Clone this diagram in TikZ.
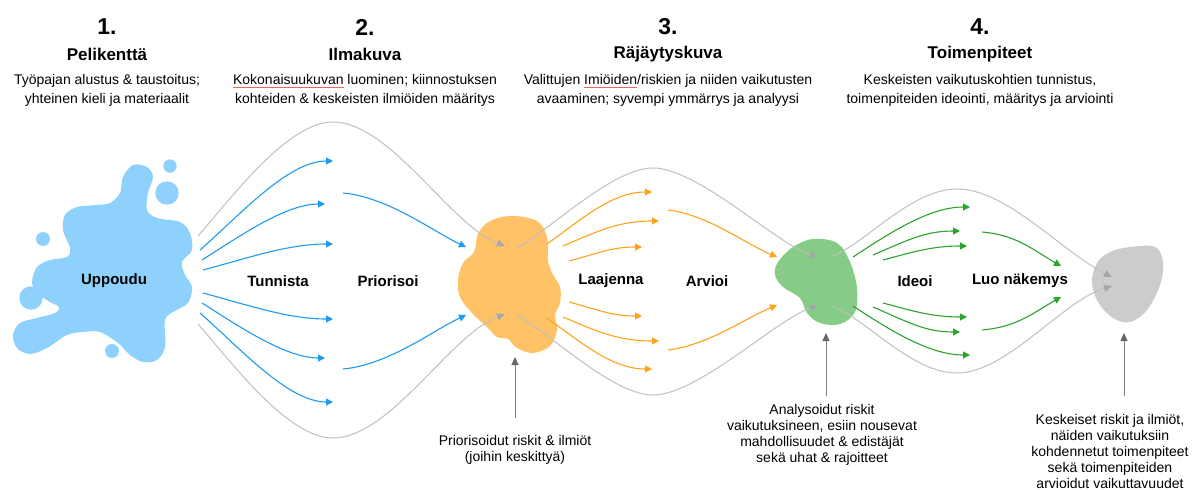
\documentclass[tikz,border=0pt]{standalone}
\usepackage{fontspec}
\setmainfont{Liberation Sans}
\usetikzlibrary{arrows.meta}

\definecolor{splash}{HTML}{8ED1FC}
\definecolor{bluearrow}{HTML}{1E9BF0}
\definecolor{orangeblob}{HTML}{FFC266}
\definecolor{orangearrow}{HTML}{FFA31A}
\definecolor{greenblob}{HTML}{86CC86}
\definecolor{greenarrow}{HTML}{2DA32D}
\definecolor{grayblob}{HTML}{CCCCCC}
\definecolor{flowline}{HTML}{C0C0C0}
\definecolor{flowtip}{HTML}{A6A6A6}
\definecolor{pointer}{HTML}{808080}
\definecolor{pointertip}{HTML}{666666}
\definecolor{spellred}{HTML}{EE6666}

% red spell-check squiggle under a word
\newcommand\spellwave[1]{\setbox0\hbox{#1}%
  \rlap{\color{spellred}\hbox to\wd0{\xleaders\hbox{\rule[-3.6pt]{0.7pt}{0.4pt}\hskip0.2pt\rule[-3.0pt]{0.7pt}{0.4pt}\hskip0.2pt}\hfil}}#1}

\tikzset{
  bluearr/.style={draw=bluearrow, line width=1.1pt, -{Triangle[length=7pt,width=7pt]}},
  orangearr/.style={draw=orangearrow, line width=1.1pt, -{Triangle[length=7pt,width=7pt]}},
  greenarr/.style={draw=greenarrow, line width=1.1pt, -{Triangle[length=7pt,width=7pt]}},
  flow/.style={draw=flowline, line width=1pt, -{Triangle[length=8pt,width=7pt,color=flowtip]}},
  pointerarr/.style={draw=pointer, line width=1pt, -{Triangle[length=8pt,width=7pt,color=pointertip]}},
  stepnum/.style={font=\fontsize{23}{26}\selectfont\bfseries},
  stagetitle/.style={font=\fontsize{17}{20}\selectfont\bfseries},
  stagedesc/.style={font=\fontsize{14}{19}\selectfont, align=center, inner sep=0pt},
  actlabel/.style={font=\fontsize{15}{18}\selectfont\bfseries},
  outlabel/.style={font=\fontsize{14}{16}\selectfont, align=center, inner sep=0pt},
}

\begin{document}
\begin{tikzpicture}[x=1pt, y=-1pt]
\useasboundingbox (0,0) rectangle (1192,490);
\fill[white] (0,0) rectangle (1192,490);

% ---------- blobs ----------
\fill[splash] plot[smooth cycle, tension=0.55] coordinates {
  (123,177) (133,165) (147,167) (153,177) (148,193) (147,210) (157,218)
  (180,222) (190,233) (192,250) (182,262) (185,275) (192,287) (188,303)
  (173,312) (165,320) (165,347) (157,360) (143,362) (130,355) (118,343)
  (100,332) (83,332) (67,335) (47,348) (30,354) (17,348) (13,335) (20,323)
  (37,318) (55,313) (59,307) (50,302) (37,293) (32,282) (37,267) (50,260)
  (67,257) (70,248) (63,230) (65,215) (77,207) (97,205) (110,203) (120,193)};
\fill[splash] (170,166) circle (6.7);
\fill[splash] (167,193) circle (11.7);
\fill[splash] (43,239) circle (7);
\fill[splash] (31,298) circle (11.7);
\fill[splash] (112,351) circle (7);

\fill[orangeblob] plot[smooth cycle, tension=0.6] coordinates {
  (512,216) (537,221) (547,237) (548,260) (552,273) (560,287) (560,303)
  (555,315) (557,330) (550,346) (533,353) (517,348) (508,339) (497,337)
  (488,328) (472,313) (460,297) (458,280) (463,263) (474,252) (478,234) (490,221)};

\fill[greenblob] plot[smooth cycle, tension=0.6] coordinates {
  (813,239) (837,243) (850,262) (857,288) (855,312) (840,324) (820,323)
  (807,313) (800,298) (783,287) (775,275) (778,262) (793,247)};

\fill[grayblob] plot[smooth cycle, tension=0.6] coordinates {
  (1130,247) (1155,247) (1163,262) (1160,285) (1147,310) (1130,322)
  (1113,318) (1098,302) (1092,282) (1097,263) (1110,252)};

% ---------- grey envelope lines ----------
\coordinate (g1a) at (198,236); \coordinate (g1p) at (333,122); \coordinate (g1b) at (505,246);
\coordinate (g1c) at (198,324); \coordinate (g1q) at (333,438); \coordinate (g1d) at (505,314);
\draw[flow] (g1a) .. controls +(35,-40) and +(-45,0) .. (g1p)
                  .. controls +(57,0) and +(-55,-21) .. (g1b);
\draw[flow] (g1c) .. controls +(35,40) and +(-45,0) .. (g1q)
                  .. controls +(57,0) and +(-55,21) .. (g1d);

\coordinate (g2a) at (517,248); \coordinate (g2p) at (653,168); \coordinate (g2b) at (818,257);
\coordinate (g2c) at (517,315); \coordinate (g2q) at (653,395); \coordinate (g2d) at (818,306);
\draw[flow] (g2a) .. controls +(35,-20) and +(-40,0) .. (g2p)
                  .. controls +(45,0) and +(-40,-12) .. (g2b);
\draw[flow] (g2c) .. controls +(35,20) and +(-40,0) .. (g2q)
                  .. controls +(45,0) and +(-40,12) .. (g2d);

\coordinate (g3a) at (833,256); \coordinate (g3p) at (957,189); \coordinate (g3b) at (1112,277);
\coordinate (g3c) at (833,306); \coordinate (g3q) at (957,373); \coordinate (g3d) at (1112,286);
\draw[flow] (g3a) .. controls +(35,-15) and +(-45,0) .. (g3p)
                  .. controls +(50,0) and +(-50,-25) .. (g3b);
\draw[flow] (g3c) .. controls +(35,15) and +(-45,0) .. (g3q)
                  .. controls +(50,0) and +(-50,15) .. (g3d);

% ---------- blue arrows ----------
\foreach \n/\sx/\sy/\ex/\ey/\ax/\ay/\bx in {
    1/200/250/333/161/40/-35/-45,
    2/202/260/325/204/35/-22/-40,
    3/203/270/333/244/45/-12/-45,
    4/203/293/333/319/45/12/-45,
    5/202/303/325/358/35/22/-40,
    6/200/313/333/402/40/35/-45} {
  \coordinate (b\n s) at (\sx,\sy);
  \coordinate (b\n e) at (\ex,\ey);
  \draw[bluearr] (b\n s) .. controls +(\ax,\ay) and +(\bx,0) .. (b\n e);
}
\coordinate (b7s) at (343,193); \coordinate (b7e) at (466,247);
\coordinate (b8s) at (343,369); \coordinate (b8e) at (466,315);
\draw[bluearr] (b7s) .. controls +(45,4) and +(-32,-15) .. (b7e);
\draw[bluearr] (b8s) .. controls +(45,-4) and +(-32,15) .. (b8e);

% ---------- orange arrows ----------
\foreach \n/\sx/\sy/\ex/\ey/\ax/\ay/\bx in {
    1/547/244/652/192/35/-25/-40,
    2/563/246/659/221/35/-15/-40,
    3/569/261/642/247/30/-8/-30,
    4/569/302/642/316/30/8/-30,
    5/563/317/659/341/35/15/-40,
    6/547/318/652/369/35/25/-40} {
  \coordinate (o\n s) at (\sx,\sy);
  \coordinate (o\n e) at (\ex,\ey);
  \draw[orangearr] (o\n s) .. controls +(\ax,\ay) and +(\bx,0) .. (o\n e);
}
\coordinate (o7s) at (668,210); \coordinate (o7e) at (777,257);
\coordinate (o8s) at (668,350); \coordinate (o8e) at (777,305);
\draw[orangearr] (o7s) .. controls +(40,5) and +(-35,-15) .. (o7e);
\draw[orangearr] (o8s) .. controls +(40,-5) and +(-35,15) .. (o8e);

% ---------- green arrows ----------
\foreach \n/\sx/\sy/\ex/\ey/\ax/\ay/\bx in {
    1/853/257/970/207/38/-25/-40,
    2/873/255/960/231/35/-15/-35,
    3/883/260/967/246/30/-8/-35,
    4/883/303/967/317/30/8/-35,
    5/873/307/960/332/35/15/-35,
    6/853/306/970/355/38/25/-40} {
  \coordinate (e\n s) at (\sx,\sy);
  \coordinate (e\n e) at (\ex,\ey);
  \draw[greenarr] (e\n s) .. controls +(\ax,\ay) and +(\bx,0) .. (e\n e);
}
\coordinate (e7s) at (982,232); \coordinate (e7e) at (1061,266);
\coordinate (e8s) at (982,330); \coordinate (e8e) at (1061,297);
\draw[greenarr] (e7s) .. controls +(35,3) and +(-28,-16) .. (e7e);
\draw[greenarr] (e8s) .. controls +(35,-3) and +(-28,16) .. (e8e);

% ---------- stage headings ----------
\node[stepnum]    (n1) at (107,27) {1.};
\node[stagetitle] (t1) at (107,54) {Pelikenttä};
\node[stagedesc]  (d1) at (107,90) {Työpajan alustus \& taustoitus;\\yhteinen kieli ja materiaalit};

\node[stepnum]    (n2) at (365,27) {2.};
\node[stagetitle] (t2) at (365,54) {Ilmakuva};
\node[stagedesc]  (d2) at (365,90) {\spellwave{Kokonaisuukuvan} luominen; kiinnostuksen\\kohteiden \& keskeisten ilmiöiden määritys};

\node[stepnum]    (n3) at (668,27) {3.};
\node[stagetitle] (t3) at (668,54) {Räjäytyskuva};
\node[stagedesc]  (d3) at (668,90) {Valittujen \spellwave{Imiöiden}/riskien ja niiden vaikutusten\\avaaminen; syvempi ymmärrys ja analyysi};

\node[stepnum]    (n4) at (980,27) {4.};
\node[stagetitle] (t4) at (980,54) {Toimenpiteet};
\node[stagedesc]  (d4) at (980,90) {Keskeisten vaikutuskohtien tunnistus,\\toimenpiteiden ideointi, määritys ja arviointi};

% ---------- activity labels ----------
\node[actlabel] (a1) at (114,281) {Uppoudu};
\node[actlabel] (a2) at (278,281) {Tunnista};
\node[actlabel] (a3) at (388,281) {Priorisoi};
\node[actlabel] (a4) at (611,281) {Laajenna};
\node[actlabel] (a5) at (707,281) {Arvioi};
\node[actlabel] (a6) at (915,281) {Ideoi};
\node[actlabel] (a7) at (1020,281) {Luo näkemys};

% ---------- outcomes ----------
\node[outlabel] (r1) at (515,450) {Priorisoidut riskit \& ilmiöt\\(joihin keskittyä)};
\node[outlabel] (r2) at (822,435) {Analysoidut riskit\\vaikutuksineen, esiin nousevat\\mahdollisuudet \& edistäjät\\sekä uhat \& rajoitteet};
\node[outlabel] (r3) at (1110,451) {Keskeiset riskit ja ilmiöt,\\näiden vaikutuksiin\\kohdennetut toimenpiteet\\sekä toimenpiteiden\\arvioidut vaikuttavuudet};

\coordinate (q1) at (515,418); \coordinate (p1) at (515,357);
\coordinate (q2) at (826,396); \coordinate (p2) at (826,333);
\coordinate (q3) at (1124,396); \coordinate (p3) at (1124,333);
\draw[pointerarr] (q1) -- (p1);
\draw[pointerarr] (q2) -- (p2);
\draw[pointerarr] (q3) -- (p3);
\end{tikzpicture}
\end{document}
